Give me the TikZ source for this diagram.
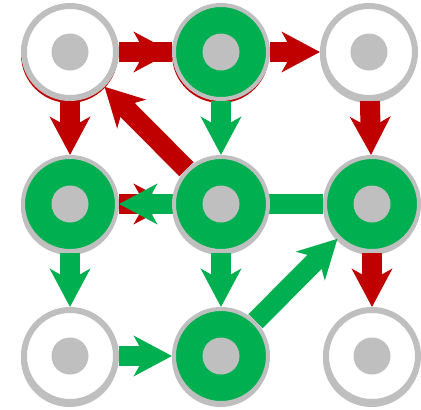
\documentclass[tikz,border=0pt]{standalone}
\usepackage{tikz}
\usetikzlibrary{arrows.meta,backgrounds}
\definecolor{okgreen}{RGB}{0,176,80}
\definecolor{badred}{RGB}{192,0,0}
\definecolor{ringgray}{RGB}{191,191,191}
\tikzset{
  wstate/.style={circle,draw=ringgray,line width=6pt,fill=white,minimum size=92pt,inner sep=0pt},
  gstate/.style={circle,draw=ringgray,line width=4pt,fill=okgreen,minimum size=94pt,inner sep=0pt},
  move/.style={line width=20pt,-{Stealth[length=38pt,width=40pt,inset=11pt]}},
}
\begin{document}
\begin{tikzpicture}[x=1pt,y=-1pt]
\useasboundingbox (0,0) rectangle (421,410);
\node[wstate] (tl) at (70,52) {};
\node[gstate] (tm) at (221,52) {};
\node[wstate] (tr) at (369,52) {};
\node[gstate] (ml) at (70,204) {};
\node[gstate] (mm) at (221,204) {};
\node[gstate] (mr) at (372,204) {};
\node[wstate] (bl) at (70,356) {};
\node[gstate] (bm) at (221,356) {};
\node[wstate] (br) at (372,356) {};
\foreach \n in {tl,tm,tr,ml,mm,mr,bl,bm,br}
\fill[ringgray] (\n) circle (18.5pt);
\begin{scope}[on background layer]
\foreach \x/\y/\c in {70/52/badred,221/52/badred,369/52/ringgray,70/204/ringgray,221/204/ringgray,372/204/ringgray,70/356/ringgray,221/356/ringgray,372/356/ringgray}
\fill[\c] (\x-0.5,\y+2.5) circle (48.5pt);
\draw[badred,line width=20pt] (tl) -- (tm);
\draw[move,badred] (tl) -- (tm);
\draw[move,badred] (tm) -- (tr);
\draw[move,badred] (tl) -- (ml);
\draw[move,okgreen] (tm) -- (mm);
\draw[move,badred] (tr) -- (mr);
\draw[move,badred] (mm) -- (tl);
\draw[move,badred] (ml) -- (mm);
\draw[move,okgreen] (mr) -- (ml);
\draw[move,okgreen] (ml) -- (bl);
\draw[move,okgreen] (mm) -- (bm);
\draw[move,badred] (mr) -- (br);
\draw[move,okgreen] (bl) -- (bm);
\draw[move,okgreen] (bm) -- (mr);
\end{scope}
\end{tikzpicture}
\end{document}
